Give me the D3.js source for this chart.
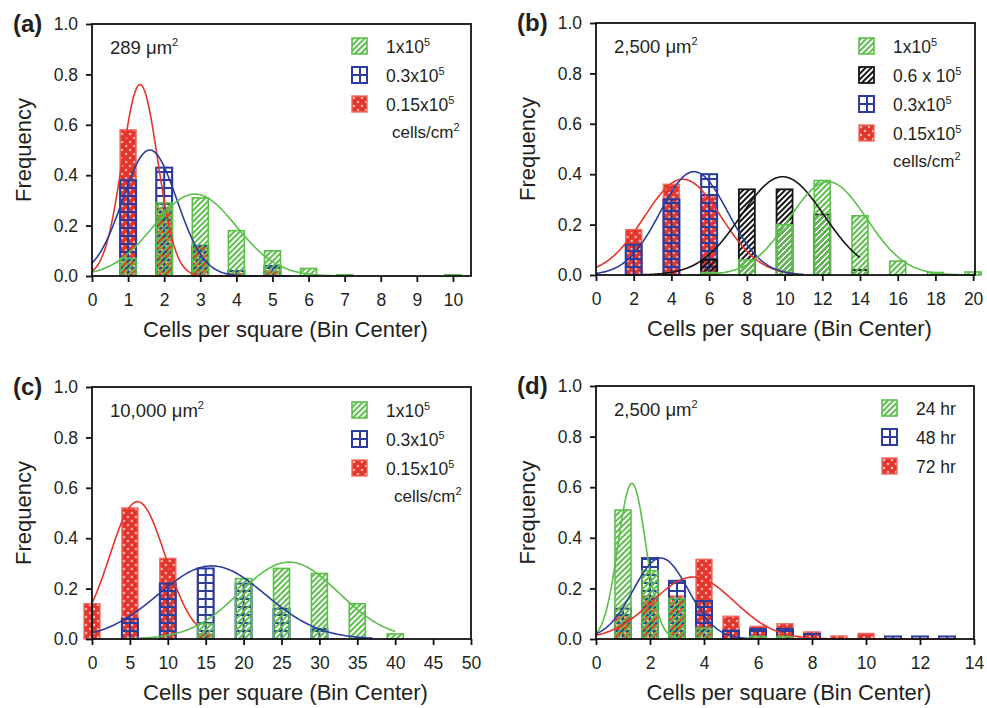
<!DOCTYPE html>
<html>
<head>
<meta charset="utf-8">
<script src="https://cdn.jsdelivr.net/npm/d3@7"></script>
<style>
    html, body { margin: 0; padding: 0; background: #fff; }
    svg text { font-family: 'Liberation Sans', Arial, Helvetica, sans-serif; fill: #231f20; }
</style>
</head>
<body>
<svg id="chart" width="987" height="708"></svg>
<script>
/* === Cell-density histograms with Gaussian fits, four panels === */

var COLORS = {
    green: '#5cbf4b',
    black: '#151515',
    blue: '#2b3c9c',
    red: '#e5352b'
};

// ---- (a) 289 um^2 ----
var binsA = [1, 2, 3, 4, 5, 6, 7, 8, 9, 10];
var redA = [0.58, 0.27, 0.12, 0.01, 0.02, 0, 0, 0, 0, 0];
var blueA = [0.38, 0.43, 0.12, 0.02, 0.04, 0, 0, 0, 0, 0];
var greenA = [0.07, 0.29, 0.31, 0.18, 0.10, 0.03, 0.005, 0, 0, 0.005];
var fitsA = [
    { key: 'red', peak: 0.76, mean: 1.33, sd: 0.49, from: 0, to: 4.5 },
    { key: 'blue', peak: 0.50, mean: 1.60, sd: 0.75, from: 0, to: 5.5 },
    { key: 'green', peak: 0.325, mean: 2.85, sd: 1.15, from: 0, to: 7 }
];

// ---- (b) 2,500 um^2 ----
var binsB = [2, 4, 6, 8, 10, 12, 14, 16, 18, 20];
var redB = [0.18, 0.36, 0.31, 0, 0, 0, 0, 0, 0, 0];
var blueB = [0.12, 0.30, 0.40, 0, 0, 0, 0, 0, 0, 0];
var blackB = [0, 0, 0.06, 0.34, 0.34, 0.24, 0.02, 0, 0, 0];
var greenB = [0, 0, 0.01, 0.06, 0.20, 0.375, 0.235, 0.055, 0.01, 0.012];
var fitsB = [
    { key: 'red', peak: 0.38, mean: 4.6, sd: 2.04, from: 0, to: 10.5 },
    { key: 'blue', peak: 0.41, mean: 5.2, sd: 1.80, from: 0, to: 11 },
    { key: 'black', peak: 0.39, mean: 9.9, sd: 2.2, from: 2, to: 14 },
    { key: 'green', peak: 0.37, mean: 12.3, sd: 2.05, from: 5, to: 20 }
];

// ---- (c) 10,000 um^2 ----
var binsC = [0, 5, 10, 15, 20, 25, 30, 35, 40];
var redC = [0.14, 0.52, 0.32, 0.02, 0, 0, 0, 0, 0];
var blueC = [0, 0.08, 0.22, 0.28, 0.22, 0.12, 0.04, 0, 0];
var greenC = [0, 0, 0, 0.06, 0.24, 0.28, 0.26, 0.14, 0.02];
var fitsC = [
    { key: 'red', peak: 0.545, mean: 6.0, sd: 3.66, from: 0, to: 14 },
    { key: 'blue', peak: 0.29, mean: 15.8, sd: 7.1, from: 0, to: 37 },
    { key: 'green', peak: 0.305, mean: 26.0, sd: 6.5, from: 4, to: 40 }
];

// ---- (d) 2,500 um^2, time course ----
var binsD = [1, 2, 3, 4, 5, 6, 7, 8, 9, 10, 11, 12, 13];
var redD = [0.09, 0.17, 0.17, 0.315, 0.09, 0.05, 0.06, 0.028, 0.012, 0.022, 0, 0, 0];
var blueD = [0.12, 0.32, 0.23, 0.15, 0.033, 0.04, 0.04, 0.02, 0, 0, 0.01, 0.01, 0.01];
var greenD = [0.51, 0.27, 0.16, 0.043, 0, 0.01, 0.01, 0, 0, 0, 0, 0, 0];
var fitsD = [
    { key: 'green', peak: 0.615, mean: 1.33, sd: 0.515, from: 0, to: 8 },
    { key: 'blue', peak: 0.32, mean: 2.4, sd: 1.02, from: 0, to: 8.5 },
    { key: 'red', peak: 0.245, mean: 3.6, sd: 1.52, from: 0, to: 13 }
];

// legend labels ('^' marks the superscript)
var legendABC = [['green', '1x10^5'], ['blue', '0.3x10^5'], ['red', '0.15x10^5']];
var legendB = [['green', '1x10^5'], ['black', '0.6 x 10^5'], ['blue', '0.3x10^5'], ['red', '0.15x10^5']];
var legendD = [['green', '24 hr'], ['blue', '48 hr'], ['red', '72 hr']];

var Y_TICKS = [0, 0.2, 0.4, 0.6, 0.8, 1.0];

var panels = [
    { tag: '(a)', area: '289 \u03bcm^2', left: 92, right: 471, top: 24, bottom: 276, xMax: 10.5,
      xTicks: d3.range(0, 11, 1), bins: binsA,
      series: [['red', redA], ['blue', blueA], ['green', greenA]],
      fits: fitsA, legend: legendABC, units: true, legendX: 386, legendY: 53, unitsDx: 6 },
    { tag: '(b)', area: '2,500 \u03bcm^2', left: 596, right: 975, top: 23, bottom: 275, xMax: 20.1,
      xTicks: d3.range(0, 21, 2), bins: binsB,
      series: [['red', redB], ['blue', blueB], ['black', blackB], ['green', greenB]],
      fits: fitsB, legend: legendB, units: true, legendX: 893, legendY: 53, unitsDx: 0 },
    { tag: '(c)', area: '10,000 \u03bcm^2', left: 92, right: 471, top: 387, bottom: 639, xMax: 50,
      xTicks: d3.range(0, 51, 5), bins: binsC,
      series: [['red', redC], ['blue', blueC], ['green', greenC]],
      fits: fitsC, legend: legendABC, units: true, legendX: 386, legendY: 417, unitsDx: 8 },
    { tag: '(d)', area: '2,500 \u03bcm^2', left: 596, right: 974, top: 386, bottom: 639, xMax: 14,
      xTicks: d3.range(0, 15, 2), bins: binsD,
      series: [['red', redD], ['blue', blueD], ['green', greenD]],
      fits: fitsD, legend: legendD, units: false, legendX: 916, legendY: 415, unitsDx: 0 }
];

var svg = d3.select('#chart');
var defs = svg.append('defs');
var patternCount = 0;

// one pattern per mark so the grid/hatch lines up with the bar edges
function makePattern(kind, ox, oy) {
    var id = 'pat' + (patternCount++);
    var p = defs.append('pattern').attr('id', id).attr('patternUnits', 'userSpaceOnUse');
    if (kind === 'blue') {
        p.attr('x', ox).attr('y', oy).attr('width', 8).attr('height', 8);
        p.append('rect').attr('x', -1).attr('y', -1).attr('width', 2).attr('height', 10).attr('fill', COLORS.blue);
        p.append('rect').attr('x', 7).attr('y', -1).attr('width', 2).attr('height', 10).attr('fill', COLORS.blue);
        p.append('rect').attr('x', -1).attr('y', -1).attr('width', 10).attr('height', 2).attr('fill', COLORS.blue);
        p.append('rect').attr('x', -1).attr('y', 7).attr('width', 10).attr('height', 2).attr('fill', COLORS.blue);
    } else if (kind === 'red') {
        p.attr('x', ox).attr('y', oy).attr('width', 8).attr('height', 8);
        p.append('rect').attr('width', 8).attr('height', 8).attr('fill', COLORS.red);
        [[2, 2], [6, 6]].forEach(function(c) {
            p.append('rect').attr('x', c[0] - 1.2).attr('y', c[1] - 0.4).attr('width', 2.4).attr('height', 0.8).attr('fill', '#fff');
            p.append('rect').attr('x', c[0] - 0.4).attr('y', c[1] - 1.2).attr('width', 0.8).attr('height', 2.4).attr('fill', '#fff');
        });
    } else {
        // diagonal hatch, green or black
        p.attr('x', ox).attr('y', oy).attr('width', 4).attr('height', 4)
            .attr('patternTransform', 'rotate(45)');
        p.append('rect').attr('width', 2).attr('height', 4).attr('fill', COLORS[kind]);
    }
    return 'url(#' + id + ')';
}

var STROKES = { green: COLORS.green, black: COLORS.black, blue: COLORS.blue, red: '#ee6b60' };
var STROKE_W = { green: 1.6, black: 1.8, blue: 2, red: 1.4 };

function supText(sel, label, size, supSize) {
    var parts = label.split('^');
    sel.append('tspan').text(parts[0]);
    if (parts.length > 1) {
        sel.append('tspan').attr('font-size', supSize).attr('dy', -size * 0.42).text(parts[1]);
    }
}

function drawPanel(cfg) {
    var g = svg.append('g');
    var x = d3.scaleLinear().domain([0, cfg.xMax]).range([cfg.left, cfg.right]);
    var y = d3.scaleLinear().domain([0, 1]).range([cfg.bottom, cfg.top]);
    var BAR_W = 16;

    // bars, drawn red -> blue -> black -> green so later hatches overlay earlier fills
    cfg.series.forEach(function(s) {
        var key = s[0];
        var pts = cfg.bins.map(function(b, i) { return { bin: b, v: s[1][i] }; })
            .filter(function(d) { return d.v > 0; });
        g.append('g').selectAll('rect')
            .data(pts)
            .join('rect')
            .attr('x', function(d) { return x(d.bin) - BAR_W / 2; })
            .attr('y', function(d) { return y(d.v); })
            .attr('width', BAR_W)
            .attr('height', function(d) { return y(0) - y(d.v); })
            .attr('fill', function(d) { return makePattern(key, x(d.bin) - BAR_W / 2, y(0)); })
            .attr('stroke', STROKES[key])
            .attr('stroke-width', STROKE_W[key]);
    });

    // gaussian fit curves
    var line = d3.line()
        .x(function(d) { return x(d[0]); })
        .y(function(d) { return y(d[1]); });
    cfg.fits.forEach(function(f) {
        var pts = d3.range(f.from, f.to + 1e-9, (f.to - f.from) / 200).map(function(t) {
            return [t, f.peak * Math.exp(-Math.pow(t - f.mean, 2) / (2 * f.sd * f.sd))];
        });
        g.append('path')
            .attr('d', line(pts))
            .attr('fill', 'none')
            .attr('stroke', COLORS[f.key])
            .attr('stroke-width', 1.6);
    });

    // axes
    var yAxis = g.append('g')
        .attr('transform', 'translate(' + cfg.left + ',0)')
        .call(d3.axisLeft(y).tickValues(Y_TICKS).tickFormat(d3.format('.1f')).tickSize(6).tickPadding(8).tickSizeOuter(0));
    var xAxis = g.append('g')
        .attr('transform', 'translate(0,' + cfg.bottom + ')')
        .call(d3.axisBottom(x).tickValues(cfg.xTicks).tickFormat(d3.format('d')).tickSize(6).tickPadding(12).tickSizeOuter(0));
    [yAxis, xAxis].forEach(function(a) {
        a.attr('font-family', null).attr('font-size', null);
        a.select('.domain').remove();
        a.selectAll('.tick line').attr('stroke', '#111').attr('stroke-width', 1.8);
        a.selectAll('.tick text').attr('font-size', 17.5).attr('fill', '#231f20');
    });

    // frame
    g.append('rect')
        .attr('x', cfg.left).attr('y', cfg.top)
        .attr('width', cfg.right - cfg.left).attr('height', cfg.bottom - cfg.top)
        .attr('fill', 'none').attr('stroke', '#111').attr('stroke-width', 1.8);

    // titles
    g.append('text')
        .attr('x', (cfg.left + cfg.right) / 2 + 4)
        .attr('y', cfg.bottom + 61)
        .attr('text-anchor', 'middle')
        .attr('font-size', 22)
        .text('Cells per square (Bin Center)');
    g.append('text')
        .attr('transform', 'translate(' + (cfg.left - 61) + ',' + ((cfg.top + cfg.bottom) / 2) + ') rotate(-90)')
        .attr('text-anchor', 'middle')
        .attr('font-size', 22)
        .text('Frequency');
    g.append('text')
        .attr('x', cfg.left - 79)
        .attr('y', cfg.top + 8)
        .attr('font-size', 24)
        .attr('font-weight', 'bold')
        .text(cfg.tag);
    g.append('text')
        .attr('x', cfg.left + 18)
        .attr('y', cfg.top + 30)
        .attr('font-size', 18.5)
        .call(supText, cfg.area, 18.5, 11);

    // legend
    cfg.legend.forEach(function(item, i) {
        var by = cfg.legendY + i * 29;
        var sx = cfg.legendX - 34;
        g.append('rect')
            .attr('x', sx).attr('y', by - 15)
            .attr('width', 15).attr('height', 16)
            .attr('fill', makePattern(item[0], sx, by + 1))
            .attr('stroke', STROKES[item[0]])
            .attr('stroke-width', STROKE_W[item[0]]);
        g.append('text')
            .attr('x', cfg.legendX).attr('y', by)
            .attr('font-size', 17.5)
            .call(supText, item[1], 17.5, 11);
    });
    if (cfg.units) {
        g.append('text')
            .attr('x', cfg.legendX + cfg.unitsDx)
            .attr('y', cfg.legendY + cfg.legend.length * 29 - 2)
            .attr('font-size', 17)
            .call(supText, 'cells/cm^2', 17, 11);
    }
}

panels.forEach(drawPanel);
</script>
</body>
</html>
